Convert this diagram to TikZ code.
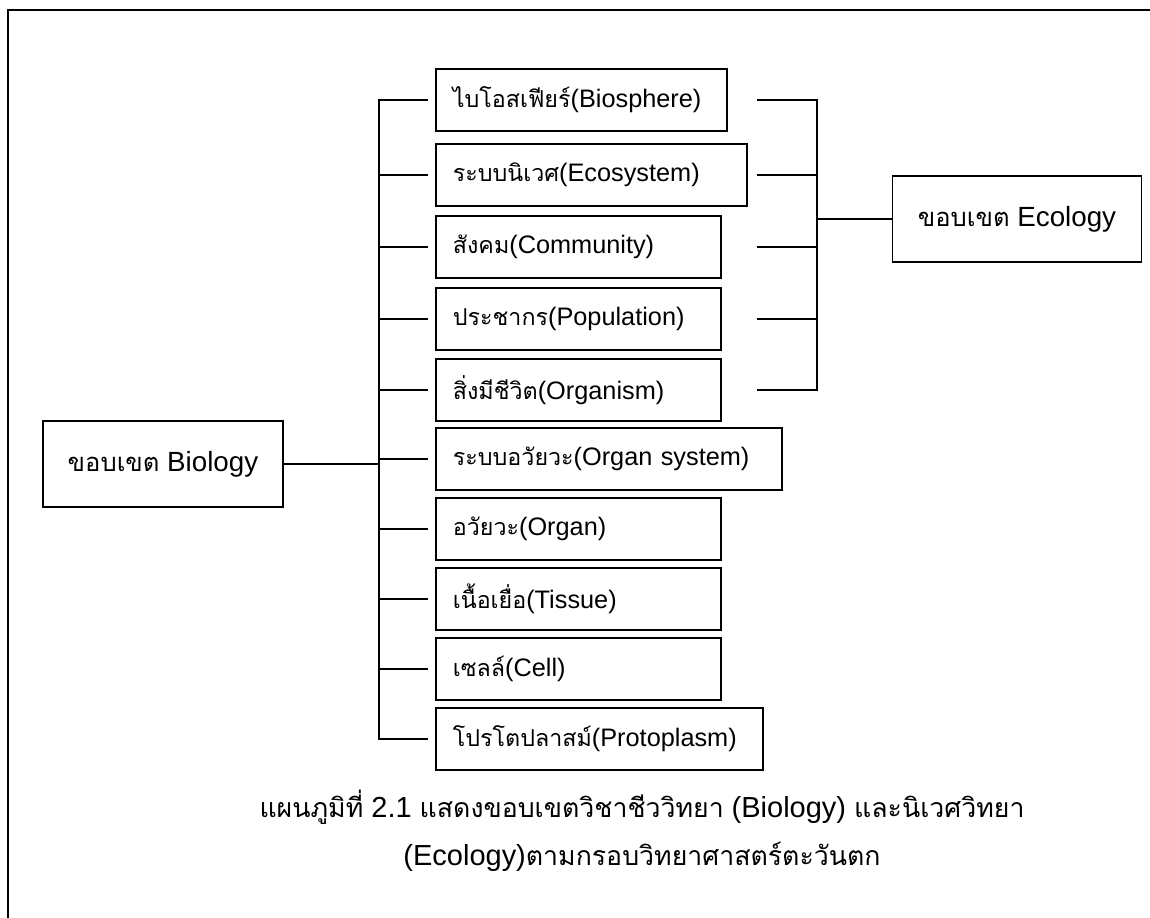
\documentclass[tikz,border=0pt]{standalone}
\usepackage{fontspec}
\setmainfont{Liberation Sans}
\newfontfamily\thaifont[Script=Thai, Scale=0.92]{Loma}
\usetikzlibrary{positioning, calc}

\tikzset{
  lvl/.style={draw, line width=1pt, anchor=north west, minimum height=1.24cm,
    inner xsep=0.34cm, inner ysep=0pt, align=left, font=\fontsize{14.4}{16}\selectfont},
  side/.style={draw, line width=1pt, minimum height=1.72cm, font=\fontsize{15.8}{18}\selectfont},
}

\begin{document}
\begin{tikzpicture}[x=0.02cm, y=-0.02cm, line width=1pt]
		\useasboundingbox (0,0) rectangle (1150,918);
		\draw (8,918) -- (8,10) -- (1150,10);
		
		\node[lvl, text width=5.14cm] (bio) at (435,68) {{\thaifont ไบโอสเฟียร์}(Biosphere)};
		\node[lvl, text width=5.54cm] (eco) at (435,143) {{\thaifont ระบบนิเวศ}(Ecosystem)};
		\node[lvl, text width=5.02cm] (com) at (435,215) {{\thaifont สังคม}(Community)};
		\node[lvl, text width=5.02cm] (pop) at (435,287) {{\thaifont ประชากร}(Population)};
		\node[lvl, text width=5.02cm] (org) at (435,358) {{\thaifont สิ่งมีชีวิต}(Organism)};
		\node[lvl, text width=6.24cm] (osys) at (435,427) {{\thaifont ระบบอวัยวะ}(Organ system)};
		\node[lvl, text width=5.02cm] (organ) at (435,497) {{\thaifont อวัยวะ}(Organ)};
		\node[lvl, text width=5.02cm] (tis) at (435,567) {{\thaifont เนื้อเยื่อ}(Tissue)};
		\node[lvl, text width=5.02cm] (cell) at (435,637) {{\thaifont เซลล์}(Cell)};
		\node[lvl, text width=5.86cm] (proto) at (435,707) {{\thaifont โปรโตปลาสม์}(Protoplasm)};
		
		\node[side, minimum width=4.8cm] (biology) at (163,464) {{\thaifont ขอบเขต} Biology};
		\node[side, minimum width=4.98cm] (ecology) at (1017,219) {{\thaifont ขอบเขต} Ecology};
		
		\coordinate (busL) at (379,0);
		\coordinate (busR) at (817,0);
		\coordinate (stubR) at (757,0);
		
		% left bracket
		\draw ([xshift=-0.14cm]bio.west) -- (bio.west -| busL) -- (proto.west -| busL) -- ([xshift=-0.14cm]proto.west);
		\foreach \n in {eco,com,pop,org,osys,organ,tis,cell}
			\draw ([xshift=-0.14cm]\n.west) -- (\n.west -| busL);
		\draw (biology.east) -- (biology.east -| busL);
		
		% right bracket
		\draw (bio.east -| stubR) -- (bio.east -| busR) -- (org.east -| busR) -- (org.east -| stubR);
		\foreach \n in {eco,com,pop}
			\draw (\n.east -| stubR) -- (\n.east -| busR);
		\draw (ecology.west) -- (ecology.west -| busR);
		
		\node[align=center, font=\fontsize{16.5}{27}\selectfont] (caption) at (642,831)
			{{\thaifont แผนภูมิที่} 2.1 {\thaifont แสดงขอบเขตวิชาชีววิทยา} (Biology) {\thaifont และนิเวศวิทยา}\\
			 (Ecology){\thaifont ตามกรอบวิทยาศาสตร์ตะวันตก}};
	\end{tikzpicture}
\end{document}
